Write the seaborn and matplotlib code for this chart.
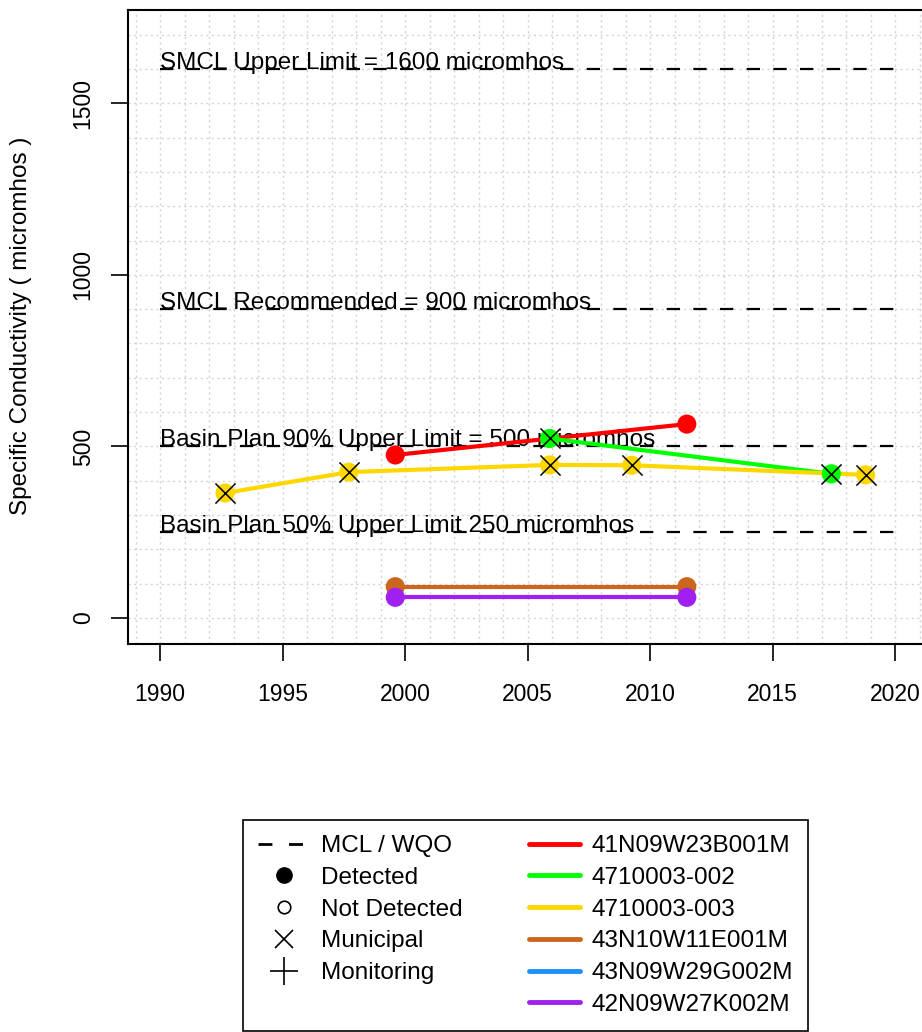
import pandas as pd
import matplotlib
matplotlib.use("Agg")
import matplotlib.pyplot as plt
from matplotlib.lines import Line2D
import seaborn as sns

# wells and the values
wells = ["41N09W23B001M", "4710003-002", "4710003-003",
         "43N10W11E001M", "43N09W29G002M", "42N09W27K002M"]
well_colors = ["#FF0000", "#00FF00", "#FFD700", "#CD661D", "#1E90FF", "#A020F0"]

red_years = [1999.6, 2011.5]
red_vals = [475, 565]
green_years = [2005.9, 2017.4]
green_vals = [523, 420]
gold_years = [1992.65, 1997.7, 2005.9, 2009.25, 2018.8]
gold_vals = [364, 425, 446, 445, 417]
brown_years = [1999.6, 2011.5]
brown_vals = [91, 91]
blue_years = []
blue_vals = []
purple_years = [1999.6, 2011.5]
purple_vals = [60, 60]

municipal = ["4710003-002", "4710003-003"]

limit_vals = [1600, 900, 500, 250]
limit_labels = ["SMCL Upper Limit = 1600 micromhos",
                "SMCL Recommended = 900 micromhos",
                "Basin Plan 90% Upper Limit = 500 micromhos",
                "Basin Plan 50% Upper Limit 250 micromhos"]
limit_start, limit_end = 1990, 2020

x_ticks = [1990, 1995, 2000, 2005, 2010, 2015, 2020]
y_ticks = [0, 500, 1000, 1500]
y_label = "Specific Conductivity ( micromhos )"

legend_key_labels = ["MCL / WQO", "Detected", "Not Detected", "Municipal", "Monitoring", ""]

# build one long table
series = [(red_years, red_vals), (green_years, green_vals), (gold_years, gold_vals),
          (brown_years, brown_vals), (blue_years, blue_vals), (purple_years, purple_vals)]
frames = []
for name, (yrs, vals) in zip(wells, series):
    if len(yrs):
        frames.append(pd.DataFrame({"year": yrs, "value": vals, "well": name}))
df = pd.concat(frames, ignore_index=True)
palette = dict(zip(wells, well_colors))

sns.set_style("white")
plt.rcParams["font.family"] = ["Liberation Sans", "DejaVu Sans"]
plt.rcParams["text.color"] = "black"
plt.rcParams["xtick.color"] = "black"
plt.rcParams["ytick.color"] = "black"

fig = plt.figure(figsize=(9.22, 10.32), dpi=100)
ax = fig.add_axes([128 / 922, 1 - 644 / 1032, 795 / 922, 634 / 1032])

# background grid (dotted, light gray)
ax.set_xticks(range(1989, 2022), minor=True)
ax.set_yticks(range(0, 1800, 100), minor=True)
ax.grid(which="both", color="#D3D3D3", linestyle=(0, (1.5, 2.5)), lw=1.0)
ax.set_axisbelow(True)

# limit lines
ax.hlines(limit_vals, limit_start, limit_end, colors="black",
          linestyles=(0, (6, 6)), lw=1.6, zorder=2)
for v, lab in zip(limit_vals, limit_labels):
    ax.text(limit_start, v, lab, fontsize=17.5, va="baseline", ha="left",
            color="black", zorder=3)

sns.lineplot(data=df, x="year", y="value", hue="well", palette=palette,
             hue_order=[w for w in wells if w in df["well"].values],
             estimator=None, lw=3, legend=False, ax=ax, zorder=4)
sns.scatterplot(data=df, x="year", y="value", hue="well", palette=palette,
                s=190, linewidth=0, legend=False, ax=ax, zorder=5)
sns.scatterplot(data=df[df["well"].isin(municipal)], x="year", y="value",
                marker="x", color="black", s=210, linewidth=1.1,
                legend=False, ax=ax, zorder=6)

ax.set_xlim(1988.69, 2021.14)
ax.set_ylim(-76, 1772)
ax.set_xticks(x_ticks)
ax.set_yticks(y_ticks)
ax.set_xlabel("")
ax.set_ylabel("")
ax.tick_params(axis="both", which="major", direction="out", length=12, width=1.2,
               labelsize=16.5, color="black", labelcolor="black",
               bottom=True, left=True)
ax.tick_params(axis="x", pad=16)
ax.tick_params(axis="y", pad=12)
ax.tick_params(which="minor", length=0)
for t in ax.get_yticklabels():
    t.set_rotation(90)
    t.set_va("center")
for s in ax.spines.values():
    s.set_color("black")
    s.set_linewidth(1.5)

fig.text(21 / 922, 1 - 326 / 1032, y_label, rotation=90, fontsize=17.5,
         ha="center", va="center", color="black")

# legend
key_handles = [
    Line2D([], [], color="black", ls=(0, (5, 6)), lw=2),
    Line2D([], [], marker="o", color="black", ls="none", markersize=11),
    Line2D([], [], marker="o", mfc="white", mec="black", ls="none", markersize=9, mew=1.2),
    Line2D([], [], marker="x", color="black", ls="none", markersize=13, mew=1.2),
    Line2D([], [], marker="+", color="black", ls="none", markersize=20, mew=1.2),
    Line2D([], [], ls="none"),
]
well_handles = [Line2D([], [], color=c, lw=3.5) for c in well_colors]
leg = fig.legend(key_handles + well_handles, legend_key_labels + wells, ncol=2,
                 loc="upper left", bbox_to_anchor=(243 / 922, 1 - 820 / 1032),
                 fontsize=17.5, frameon=True, fancybox=False, edgecolor="black",
                 framealpha=1, borderpad=0.62, labelspacing=0.4, handlelength=2.1,
                 handletextpad=0.5, columnspacing=2.7, borderaxespad=0)
leg.get_frame().set_linewidth(1.2)
for t in leg.get_texts():
    t.set_color("black")

fig.savefig("out.png", dpi=100)
